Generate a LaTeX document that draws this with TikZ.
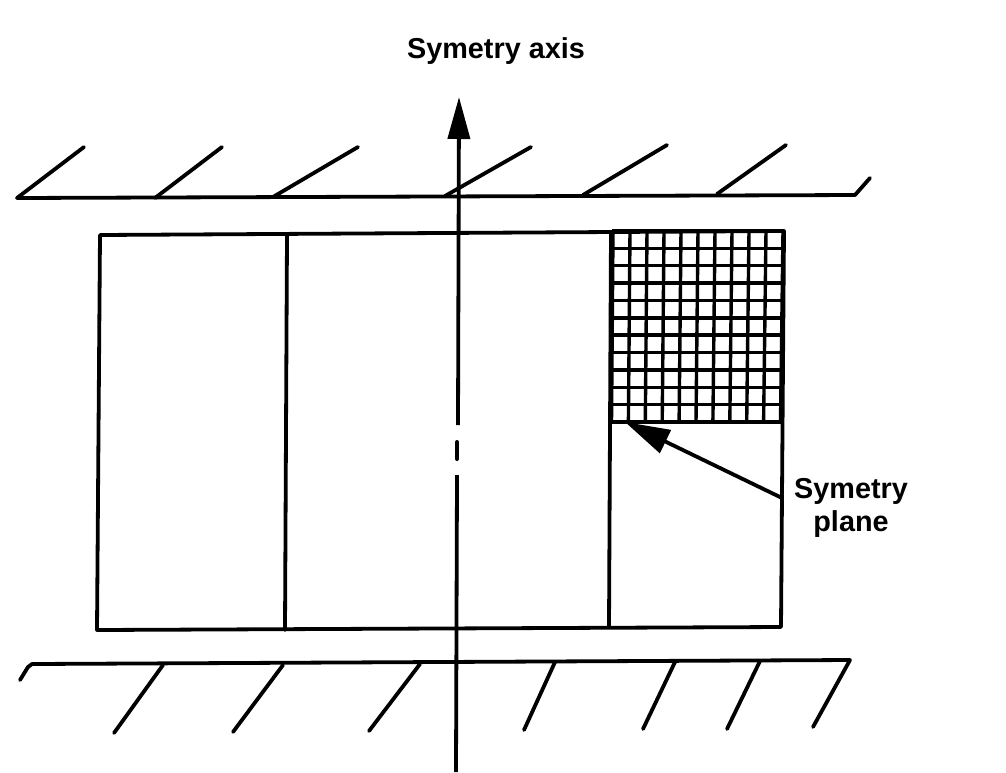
\documentclass[tikz,border=0pt]{standalone}
\usepackage{fontspec}
\setmainfont{Liberation Sans}
\usetikzlibrary{arrows.meta}
\tikzset{
  ln/.style={line width=3.8pt,line cap=round,line join=round,black},
  gridln/.style={line width=3.4pt,black},
  lbl/.style={font=\fontsize{28.8}{33}\selectfont\bfseries,inner sep=0pt,align=center,text=black}
}
\begin{document}
\begin{tikzpicture}[x=1pt,y=-1pt]
\useasboundingbox (0,0) rectangle (1006,772);
\fill[white] (0,0) rectangle (1006,772);
% labels
\node[lbl] (axislabel) at (496,51) {Symetry axis};
\node[lbl] (planelabel) at (851,508) {Symetry\\plane};
% top wall
\draw[ln] (17,198) -- (84,147);
\draw[ln] (155,198) -- (222,147);
\draw[ln] (273,197) -- (358,147);
\draw[ln] (445,196) -- (531,147);
\draw[ln] (583,195) -- (667,145);
\draw[ln] (717,194) -- (786,145);
\draw[ln] (17,198) -- (855,195) -- (870,178);
% bottom wall
\draw[ln] (20,680) -- (28,667) -- (32,664) -- (850,660) -- (813,727);
\draw[ln] (163,665) -- (114,733);
\draw[ln] (283,665) -- (233,732);
\draw[ln] (420,664) -- (369,731);
\draw[ln] (555,662) -- (524,730);
\draw[ln] (675,662) -- (643,729);
\draw[ln] (760,661) -- (727,729);
% block
\draw[ln] (100,235) -- (784,231) -- (781,627) -- (97,630) -- cycle;
\draw[ln] (287,235) -- (285,630);
\draw[ln] (611,232) -- (609,627);
% grid
\foreach \i in {0,...,10}{
  \draw[gridln] ({613+17*\i},231) -- ({611.5+16.9*\i},422);
}
\foreach \i in {0,...,11}{
  \draw[gridln] (612,{231+17.36*\i}) -- (783,{231+17.36*\i});
}
% axis
\coordinate (axbot) at (456,772);
\coordinate (axgapa) at (457,475);
\coordinate (axgapb) at (457,459);
\coordinate (axgapc) at (457,442);
\coordinate (axgapd) at (458,425);
\coordinate (axtop) at (459,97);
\draw[ln,line cap=butt] (axbot) -- (axgapa);
\draw[ln,line width=4pt] (axgapb) -- (axgapc);
\draw[ln,-{Triangle[length=42pt,width=22pt]},line cap=butt] (axgapd) -- (axtop);
% plane arrow
\coordinate (planetip) at (625,422);
\coordinate (planeend) at (782,498);
\draw[ln,-{Triangle[length=45pt,width=25pt]},line cap=butt] (planeend) -- (planetip);
\end{tikzpicture}
\end{document}
